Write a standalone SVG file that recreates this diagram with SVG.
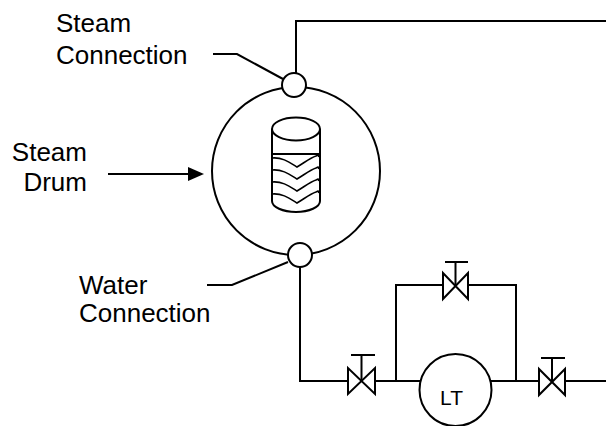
<svg xmlns="http://www.w3.org/2000/svg" width="606" height="426" viewBox="0 0 606 426">
<style>
.ln{fill:none;stroke:#000;stroke-width:2;stroke-linejoin:miter}
.wv{fill:none;stroke:#000;stroke-width:1.6}
.nd{fill:#fff;stroke:#000;stroke-width:2}
.vl{fill:#fff;stroke:#000;stroke-width:2;stroke-linejoin:miter}
.tx{font-family:"Liberation Sans",Arial,sans-serif;font-size:26px;fill:#000}
.lt{font-family:"Liberation Sans",Arial,sans-serif;font-size:21px;fill:#000}
</style>
<rect width="606" height="426" fill="#fff"/>
<g id="connectors">
<polyline class="ln" points="296,73 296,21 606,21"/>
<polyline class="ln" points="300,267 300,381 348,381"/>
<line class="ln" x1="375" y1="381" x2="420" y2="381"/>
<polyline class="ln" points="396,381 396,285 443,285"/>
<polyline class="ln" points="468,285 516,285 516,381"/>
<line class="ln" x1="491" y1="381" x2="539" y2="381"/>
<line class="ln" x1="565" y1="381" x2="606" y2="381"/>
<polyline class="ln" points="213,54 237,54 283,79"/>
<polyline class="ln" points="207,285 232,285 288,262"/>
<line class="ln" x1="108" y1="174" x2="190" y2="174"/>
<polygon points="204,174 188,167 188,181" fill="#000"/>
</g>
<g id="steam-drum">
<circle class="nd" cx="296" cy="171" r="84"/>
<g id="drum-icon">
<ellipse class="ln" cx="296" cy="129" rx="24" ry="11.5"/>
<path class="ln" d="M272,129 V201 A24,11 0 0 0 320,201 V129"/>
<line class="ln" x1="272" y1="154" x2="320" y2="154"/>
<path class="wv" d="M272,158 C282,157 289,162 297,167 C304,163 310,158 316,156 L318,155 L319,157"/>
<path class="wv" d="M272,170 C282,169 289,174 297,179 C304,175 310,170 316,168 L318,167 L319,169"/>
<path class="wv" d="M272,182 C282,181 289,186 297,191 C304,187 310,182 316,180 L318,179 L319,181"/>
<path class="wv" d="M272,194 C282,193 289,198 297,203 C304,199 310,194 316,192 L318,191 L319,193"/>
</g>
</g>
<g id="steam-connection"><circle class="nd" cx="294" cy="85" r="12"/></g>
<g id="water-connection"><circle class="nd" cx="300" cy="255" r="12"/></g>
<g id="valve-1">
<polygon class="vl" points="348,368 348,394 375,368 375,394"/>
<polyline class="ln" points="361.5,381 361.5,355"/>
<line class="ln" x1="351" y1="355" x2="375" y2="355"/>
</g>
<g id="valve-2">
<polygon class="vl" points="443,273 443,299 468,273 468,299"/>
<polyline class="ln" points="455.5,286 455.5,262"/>
<line class="ln" x1="445" y1="262" x2="468" y2="262"/>
</g>
<g id="valve-3">
<polygon class="vl" points="539,369 539,395 565,369 565,395"/>
<polyline class="ln" points="552,382 552,358"/>
<line class="ln" x1="541" y1="358" x2="565" y2="358"/>
</g>
<g id="level-transmitter">
<circle class="nd" cx="455.5" cy="390" r="36"/>
<text class="lt" x="451.5" y="405" text-anchor="middle">LT</text>
</g>
<g id="labels">
<text class="tx" x="56" y="32">Steam</text>
<text class="tx" x="56" y="64">Connection</text>
<text class="tx" x="87" y="161" text-anchor="end">Steam</text>
<text class="tx" x="87" y="191" text-anchor="end">Drum</text>
<text class="tx" x="79" y="294">Water</text>
<text class="tx" x="79" y="322">Connection</text>
</g>
</svg>
